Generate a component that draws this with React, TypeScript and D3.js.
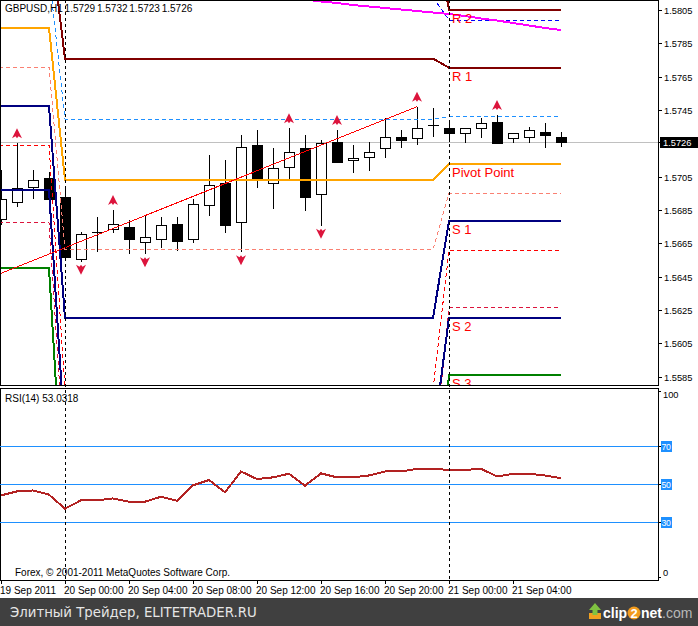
import React from 'react';
import * as d3 from 'd3';

// ---------- data ----------
const symbolHeader = 'GBPUSD,H1';
const headerQuote = '1.5729 1.5732 1.5723 1.5726';
const lastPriceLabel = '1.5726';
const lastPrice = 1.5726;

// H1 bars: 19 Sep 20:00 ... 21 Sep 07:00
const opens = [1.56794, 1.56896, 1.56986, 1.5704, 1.56926, 1.56554, 1.56716, 1.56734, 1.56748, 1.56656, 1.56674, 1.56766,
  1.56674, 1.56878, 1.57012, 1.56776, 1.5724, 1.57014, 1.57106, 1.5722, 1.56944, 1.5726, 1.57148, 1.57166,
  1.5722, 1.5729, 1.5728, 1.57362, 1.57344, 1.5731, 1.57344, 1.5738, 1.5728, 1.57286, 1.57316, 1.5729];
const highs = [1.5709, 1.5725, 1.5709, 1.5708, 1.56994, 1.5672, 1.5681, 1.5685, 1.5679, 1.5682, 1.5681, 1.5681,
  1.56916, 1.5718, 1.5715, 1.573, 1.5733, 1.5722, 1.5734, 1.573, 1.5727, 1.5733, 1.5724, 1.57256,
  1.574, 1.5733, 1.5747, 1.5746, 1.5739, 1.5734, 1.574, 1.5742, 1.57314, 1.5735, 1.5737, 1.5732];
const lows = [1.5676, 1.56866, 1.56914, 1.5688, 1.5656, 1.5654, 1.56596, 1.56714, 1.56584, 1.56584, 1.56624, 1.56606,
  1.56654, 1.56816, 1.56714, 1.56596, 1.56984, 1.56854, 1.57034, 1.56846, 1.56756, 1.5713, 1.5707, 1.57086,
  1.57164, 1.5722, 1.57238, 1.57286, 1.5726, 1.5725, 1.5728, 1.5725, 1.5725, 1.5725, 1.5722, 1.5723];
const closes = [1.56916, 1.5698, 1.5703, 1.56914, 1.56566, 1.56704, 1.56716, 1.56764, 1.56674, 1.56688, 1.56758, 1.56666,
  1.56884, 1.56998, 1.56762, 1.57226, 1.57034, 1.571, 1.57198, 1.56926, 1.5725, 1.57136, 1.5716, 1.57196,
  1.57286, 1.57272, 1.5734, 1.57362, 1.57314, 1.5734, 1.5737, 1.5725, 1.5731, 1.5733, 1.573, 1.5726];

const rsiValues = [44, 46.1, 46.6, 44.4, 37, 41.4, 41.4, 42.4, 40.7, 40.7, 43.3, 41.2,
  49.3, 52.1, 45.6, 56.6, 52.6, 53.5, 55.4, 49.1, 55.6, 53.5, 53.5, 54.5,
  56.6, 56.6, 58, 58, 57.4, 57.4, 58, 54, 55.3, 55.4, 54.5, 53.03];
const rsiHeader = 'RSI(14) 53.0318';
const rsiLevels = [70, 50, 30];
const rsiScaleLabels = ['100', '0'];

const priceTicks = ['1.5805', '1.5785', '1.5765', '1.5745', '1.5726', '1.5705', '1.5685', '1.5665', '1.5645', '1.5625', '1.5605', '1.5585'];
const timeTickBars = [0, 4, 8, 12, 16, 20, 24, 28, 32];
const timeTickLabels = ['19 Sep 2011', '20 Sep 00:00', '20 Sep 04:00', '20 Sep 08:00', '20 Sep 12:00', '20 Sep 16:00', '20 Sep 20:00', '21 Sep 00:00', '21 Sep 04:00'];

// daily pivot levels (19 Sep, 20 Sep, 21 Sep)
const dayStartBars = [-1, 4, 28];
const lastBar = 35;
const r2Levels = [1.5900, 1.5860, 1.5805];
const r1Levels = [1.58542, 1.57758, 1.57704];
const ppLevels = [1.57942, 1.5703, 1.57126];
const s1Levels = [1.57474, 1.56202, 1.56786];
const s2Levels = [1.5697, 1.5547, 1.56204];
const s3Levels = [1.56502, 1.5490, 1.5586];
const midBlueLevels = [1.58272, 1.57394, 1.5741];
const darkBlueLevels = [1.5850, 1.58125, 1.5799];
const salmonLevels = [1.57708, 1.56614, 1.5695];
const redLevels = [1.5724, 1.5577, 1.56608];
const crimsonLevels = [1.56776, 1.5530, 1.56264];
const pivotLabels = ['R 2', 'R 1', 'Pivot Point', 'S 1', 'S 2', 'S 3'];

const magentaStartBar = 19;
const magentaValues = [1.58113, 1.58101, 1.58092, 1.5808, 1.58071, 1.58062, 1.58053, 1.58044, 1.58035,
  1.58026, 1.58014, 1.57999, 1.57987, 1.57972, 1.57957, 1.57942, 1.5793];

const trendBars = [0, 26];
const trendPrices = [1.5647, 1.5747];

const upFractalBars = [1, 7, 18, 21, 26, 31];
const downFractalBars = [5, 9, 15, 20];

const copyright = 'Forex, © 2001-2011 MetaQuotes Software Corp.';
const bannerText = 'Элитный Трейдер, ELITETRADER.RU';

// ---------- layout ----------
const W = 698, H = 626;
const RIGHT = 658;
const MAIN_BOTTOM = 386;
const RSI_TOP = 388, RSI_BOTTOM = 580;
const FONT = '"Liberation Sans", Arial, sans-serif';

const x = d3.scaleLinear().domain([0, 35]).range([1, 561]);
const y = d3.scaleLinear().domain([1.5805, 1.5585]).range([10, 376.67]);
const ry = d3.scaleLinear().domain([0, 100]).range([579, 389]);

const half = (v: number) => Math.round(v) + 0.5;

function dayIndex(bar: number) {
  let d = 0;
  dayStartBars.forEach((s, i) => { if (bar >= s) d = i; });
  return d;
}
const pivotBars = d3.range(dayStartBars[0], lastBar + 1);
function levelPath(levels: number[]) {
  return d3.line<number>().x(b => x(b)).y(b => y(levels[dayIndex(b)]))(pivotBars) || '';
}

export default function App() {
  const bars = d3.range(opens.length);
  const trendScale = d3.scaleLinear().domain(trendBars).range(trendPrices);
  const leftBar = x.invert(0);
  const trendPath = d3.line<number>().x(b => x(b)).y(b => y(trendScale(b)))([leftBar, trendBars[1]]) || '';
  const magentaPath = d3.line<number>().x((_, i) => x(magentaStartBar + i)).y(v => y(v))(magentaValues) || '';
  const rsiPath = d3.line<number>().x((_, i) => x(i)).y(v => ry(v))(rsiValues) || '';

  const solidLevels = [
    { levels: r2Levels, color: '#800000' },
    { levels: r1Levels, color: '#800000' },
    { levels: ppLevels, color: '#FFA500' },
    { levels: s1Levels, color: '#000080' },
    { levels: s2Levels, color: '#000080' },
    { levels: s3Levels, color: '#008000' },
  ];
  const dashedLevels = [
    { levels: midBlueLevels, color: '#1E90FF' },
    { levels: darkBlueLevels, color: '#0000FF' },
    { levels: salmonLevels, color: '#FA8072' },
    { levels: redLevels, color: '#FF0000' },
    { levels: crimsonLevels, color: '#DC143C' },
  ];
  const lastDay = dayStartBars.length - 1;
  const labelX = x(dayStartBars[lastDay]) + 3;

  const upArrow = (cx: number, cy: number) =>
    `M${cx},${cy - 5} L${cx + 5},${cy + 5} L${cx + 1.5},${cy + 3} L${cx},${cy + 5} L${cx - 1.5},${cy + 3} L${cx - 5},${cy + 5} Z`;
  const downArrow = (cx: number, cy: number) =>
    `M${cx},${cy + 5} L${cx + 5},${cy - 5} L${cx + 1.5},${cy - 3} L${cx},${cy - 5} L${cx - 1.5},${cy - 3} L${cx - 5},${cy - 5} Z`;

  return (
    <svg width={W} height={H} style={{ position: 'absolute', left: 0, top: 0, background: '#fff' }}
      fontFamily={FONT}>
      <defs>
        <clipPath id="mainClip"><rect x={0} y={0} width={RIGHT} height={MAIN_BOTTOM} /></clipPath>
        <clipPath id="rsiClip"><rect x={0} y={RSI_TOP} width={RIGHT} height={RSI_BOTTOM - RSI_TOP} /></clipPath>
      </defs>
      <rect x={0} y={0} width={W} height={H} fill="#fff" />

      {/* main panel */}
      <g clipPath="url(#mainClip)">
        <line x1={0} x2={RIGHT} y1={half(y(lastPrice))} y2={half(y(lastPrice))} stroke="#C0C0C0" strokeWidth={1} />
        {bars.map(i => {
          const cx = Math.round(x(i));
          const yo = y(opens[i]), yc = y(closes[i]);
          const top = Math.round(Math.min(yo, yc)), bot = Math.round(Math.max(yo, yc));
          const bull = closes[i] >= opens[i];
          return (
            <g key={i} shapeRendering="crispEdges">
              <line x1={cx + 0.5} x2={cx + 0.5} y1={Math.round(y(highs[i]))} y2={Math.round(y(lows[i]))} stroke="#000" />
              {bot - top < 1
                ? <line x1={cx - 5} x2={cx + 6} y1={top + 0.5} y2={top + 0.5} stroke="#000" />
                : <rect x={cx - 4.5} y={top + 0.5} width={10} height={bot - top} fill={bull ? '#fff' : '#000'} stroke="#000" />}
            </g>
          );
        })}
        {dashedLevels.map((d, i) => (
          <path key={'d' + i} d={levelPath(d.levels)} fill="none" stroke={d.color} strokeWidth={1} strokeDasharray="4,3" shapeRendering="crispEdges" />
        ))}
        {solidLevels.map((d, i) => (
          <path key={'s' + i} d={levelPath(d.levels)} fill="none" stroke={d.color} strokeWidth={2} shapeRendering="crispEdges" />
        ))}
        <path d={magentaPath} fill="none" stroke="#FF00FF" strokeWidth={2} shapeRendering="crispEdges" />
        <path d={trendPath} fill="none" stroke="#FF0000" strokeWidth={1} shapeRendering="crispEdges" />
        {solidLevels.map((d, i) => (
          <text key={'l' + i} x={labelX} y={y(d.levels[lastDay]) + 13} fontSize={13} fill="#FF0000"
            fontFamily={FONT}>{pivotLabels[i]}</text>
        ))}
        {upFractalBars.map(b => (
          <path key={'u' + b} d={upArrow(x(b), y(highs[b]) - 10)} fill="#DC143C" />
        ))}
        {downFractalBars.map(b => (
          <path key={'dn' + b} d={downArrow(x(b), y(lows[b]) + 8)} fill="#DC143C" />
        ))}
      </g>
      <text x={5} y={11.5} fontSize={10} fill="#000" wordSpacing={-1}>
        {symbolHeader}  {headerQuote}
      </text>

      {/* panel frames */}
      <g shapeRendering="crispEdges" stroke="#000" fill="none">
        <line x1={0} x2={RIGHT} y1={0.5} y2={0.5} />
        <line x1={0.5} x2={0.5} y1={0} y2={MAIN_BOTTOM} />
        <line x1={0} x2={RIGHT + 1} y1={MAIN_BOTTOM - 0.5} y2={MAIN_BOTTOM - 0.5} />
        <line x1={RIGHT + 0.5} x2={RIGHT + 0.5} y1={0} y2={MAIN_BOTTOM} />
        <line x1={0} x2={RIGHT + 1} y1={RSI_TOP + 0.5} y2={RSI_TOP + 0.5} />
        <line x1={0.5} x2={0.5} y1={RSI_TOP} y2={RSI_BOTTOM} />
        <line x1={0} x2={RIGHT + 1} y1={RSI_BOTTOM + 0.5} y2={RSI_BOTTOM + 0.5} />
        <line x1={RIGHT + 0.5} x2={RIGHT + 0.5} y1={RSI_TOP} y2={RSI_BOTTOM} />
      </g>

      {/* price axis */}
      {priceTicks.map(t => {
        const ty = Math.round(y(+t));
        return (
          <g key={t}>
            <line x1={RIGHT} x2={RIGHT + 4} y1={ty + 0.5} y2={ty + 0.5} stroke="#000" shapeRendering="crispEdges" />
            <text x={664} y={ty + 3.5} fontSize={9.3} fill="#000">{t}</text>
          </g>
        );
      })}
      <rect x={660} y={Math.round(y(lastPrice)) - 5} width={38} height={11} fill="#000" />
      <text x={663} y={Math.round(y(lastPrice)) + 3.5} fontSize={9.3} fill="#fff">{lastPriceLabel}</text>

      {/* RSI panel */}
      <g clipPath="url(#rsiClip)">
        {rsiLevels.map(l => (
          <line key={l} x1={0} x2={RIGHT} y1={Math.round(ry(l)) + 0.5} y2={Math.round(ry(l)) + 0.5} stroke="#1E90FF" shapeRendering="crispEdges" />
        ))}
        <path d={rsiPath} fill="none" stroke="#B22222" strokeWidth={2} shapeRendering="crispEdges" />
      </g>
      <text x={5} y={401.5} fontSize={10} fill="#000">{rsiHeader}</text>
      <text x={15} y={576} fontSize={10} fill="#000">{copyright}</text>
      {rsiLevels.map(l => {
        const ly = Math.round(ry(l));
        return (
          <g key={'lab' + l}>
            <line x1={RIGHT} x2={RIGHT + 3} y1={ly + 0.5} y2={ly + 0.5} stroke="#000" shapeRendering="crispEdges" />
            <rect x={661} y={ly - 5} width={11} height={11} fill="#1E90FF" />
            <text x={661.5} y={ly + 3.5} fontSize={8.8} fill="#fff" letterSpacing={-0.3}>{String(l)}</text>
          </g>
        );
      })}
      <text x={663} y={398} fontSize={9.3} fill="#000">{rsiScaleLabels[0]}</text>
      <line x1={RIGHT} x2={RIGHT + 3} y1={391.5} y2={391.5} stroke="#000" shapeRendering="crispEdges" />
      <text x={663} y={576} fontSize={9.3} fill="#000">{rsiScaleLabels[1]}</text>
      <line x1={RIGHT} x2={RIGHT + 3} y1={577.5} y2={577.5} stroke="#000" shapeRendering="crispEdges" />

      {/* day separators */}
      {dayStartBars.slice(1).map(b => (
        <line key={'sep' + b} x1={Math.round(x(b)) + 0.5} x2={Math.round(x(b)) + 0.5} y1={0} y2={RSI_BOTTOM}
          stroke="#000" strokeDasharray="3,3" shapeRendering="crispEdges" />
      ))}

      {/* time axis */}
      {timeTickBars.map((b, i) => {
        const tx = Math.round(x(b));
        return (
          <g key={'t' + b}>
            <line x1={tx + 0.5} x2={tx + 0.5} y1={RSI_BOTTOM} y2={RSI_BOTTOM + 4} stroke="#000" shapeRendering="crispEdges" />
            <text x={tx - 1} y={594} fontSize={10} fill="#000">{timeTickLabels[i]}</text>
          </g>
        );
      })}

      {/* banner */}
      <rect x={0} y={598} width={W} height={H - 598} fill="#404040" />
      <text x={10} y={617} fontSize={13.3} fill="#e6e6e6" fontFamily='"DejaVu Sans", Verdana, sans-serif'>{bannerText}</text>
      <g>
        <rect x={589} y={613} width={12} height={6} fill="#f0a020" />
        <path d="M595,603 L601,610 L597.5,610 L597.5,615 L592.5,615 L592.5,610 L589,610 Z" fill="#7fc241" />
        <text x={603} y={618} fontSize={14} fontWeight="bold" fill="#fff" fontFamily={FONT}>clip</text>
        <circle cx={634} cy={613} r={6.5} fill="#f29b1d" />
        <text x={634} y={618} fontSize={13} fontWeight="bold" fill="#fff" textAnchor="middle" fontFamily={FONT}>2</text>
        <text x={641} y={618} fontSize={14} fontWeight="bold" fill="#fff" fontFamily={FONT}>net</text>
        <text x={662} y={618} fontSize={14} fill="#b8b8b8" fontFamily={FONT}>.com</text>
      </g>
    </svg>
  );
}
